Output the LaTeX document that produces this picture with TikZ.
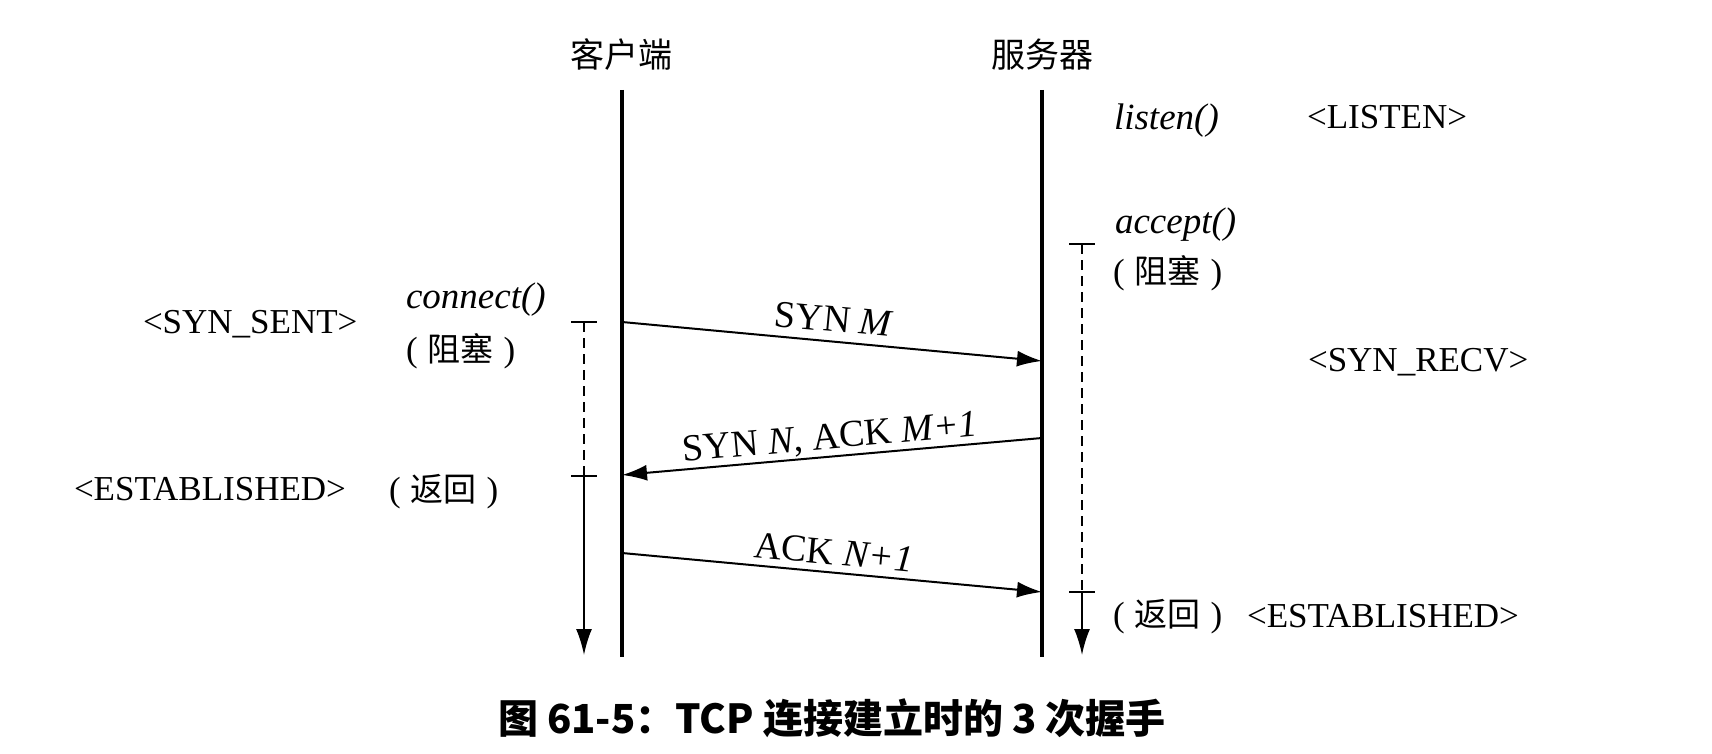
\documentclass[tikz,border=0pt]{standalone}
\usepackage{fontspec}
\setmainfont{Liberation Serif}
\newfontfamily\cjk{Noto Sans CJK SC}
\usetikzlibrary{arrows.meta}
\newcommand\cjkparen[1]{(\hspace{10pt}{\cjk\fontsize{33}{36}\selectfont #1}\hspace{10pt})}
\begin{document}
\begin{tikzpicture}[x=1pt,y=-1pt,
  every node/.style={inner sep=0pt, outer sep=0pt},
  life/.style={line width=3.5pt},
  msg/.style={line width=2pt, -{Latex[length=25pt,width=16pt]}},
  blockline/.style={line width=2pt, dash pattern=on 10pt off 6pt},
  retline/.style={line width=2pt, -{Latex[length=26pt,width=16pt]}},
  tickmark/.style={line width=2pt},
  statetext/.style={font=\fontsize{35}{40}\selectfont, anchor=base west},
  calltext/.style={font=\fontsize{37}{42}\selectfont\itshape, anchor=base west},
  cjknote/.style={font=\fontsize{35}{40}\selectfont, anchor=base west},
  headtext/.style={font=\cjk\fontsize{34}{38}\selectfont},
  lbl/.style={font=\fontsize{38}{42}\selectfont, sloped, midway, text depth=0pt},
]
\useasboundingbox (0,0) rectangle (1712,754);
\fill[white] (0,0) rectangle (1712,754);

% headers and lifelines
\node[headtext] (client) at (621,55) {客户端};
\node[headtext] (server) at (1042,55) {服务器};
\coordinate (cT) at (622,90);  \coordinate (cB) at (622,657);
\coordinate (sT) at (1042,90); \coordinate (sB) at (1042,657);
\draw[life] (cT) -- (cB);
\draw[life] (sT) -- (sB);

% messages
\coordinate (m1a) at (622,322);  \coordinate (m1b) at (1042,361);
\draw[msg] (m1a) -- node[lbl, above=10pt] (l1) {SYN \textit{M}} (m1b);
\coordinate (m2a) at (1042,438); \coordinate (m2b) at (622,475);
\draw[msg] (m2a) -- node[lbl, above=8pt] (l2) {SYN \textit{N}, ACK \textit{M+1}} (m2b);
\coordinate (m3a) at (622,553);  \coordinate (m3b) at (1042,592);
\draw[msg] (m3a) -- node[lbl, above=8pt] (l3) {ACK \textit{N+1}} (m3b);

% client blocking
\coordinate (cb1) at (584,322); \coordinate (cb2) at (584,476); \coordinate (cb3) at (584,655);
\draw[blockline] (cb1) -- (cb2);
\draw[retline] (cb2) -- (cb3);
\draw[tickmark] ([xshift=-13pt]cb1) -- ([xshift=13pt]cb1);
\draw[tickmark] ([xshift=-13pt]cb2) -- ([xshift=13pt]cb2);

% server blocking
\coordinate (sb1) at (1082,244); \coordinate (sb2) at (1082,592); \coordinate (sb3) at (1082,655);
\draw[blockline] (sb1) -- (sb2);
\draw[retline] (sb2) -- (sb3);
\draw[tickmark] ([xshift=-13pt]sb1) -- ([xshift=13pt]sb1);
\draw[tickmark] ([xshift=-13pt]sb2) -- ([xshift=13pt]sb2);

% server texts
\node[calltext] (listen) at (1114,130) {listen()};
\node[statetext] (listenst) at (1307,129) {<LISTEN>};
\node[calltext] (accept) at (1115,233) {accept()};
\node[cjknote] (sblock) at (1113,283) {\cjkparen{阻塞}};
\node[statetext] (synrecv) at (1308,371) {<SYN\_RECV>};
\node[cjknote] (sret) at (1113,626) {\cjkparen{返回}};
\node[statetext] (sest) at (1247,627) {<ESTABLISHED>};

% client texts
\node[statetext] (synsent) at (143,333) {<SYN\_SENT>};
\node[calltext] (connect) at (406,308) {connect()};
\node[cjknote] (cblock) at (406,361) {\cjkparen{阻塞}};
\node[statetext] (cest) at (74,500) {<ESTABLISHED>};
\node[cjknote] (cret) at (389,501) {\cjkparen{返回}};

% caption
\node[font=\cjk\fontsize{40}{44}\selectfont\bfseries] (caption) at (832,718) {图 61-5：TCP 连接建立时的 3 次握手};
\end{tikzpicture}
\end{document}
